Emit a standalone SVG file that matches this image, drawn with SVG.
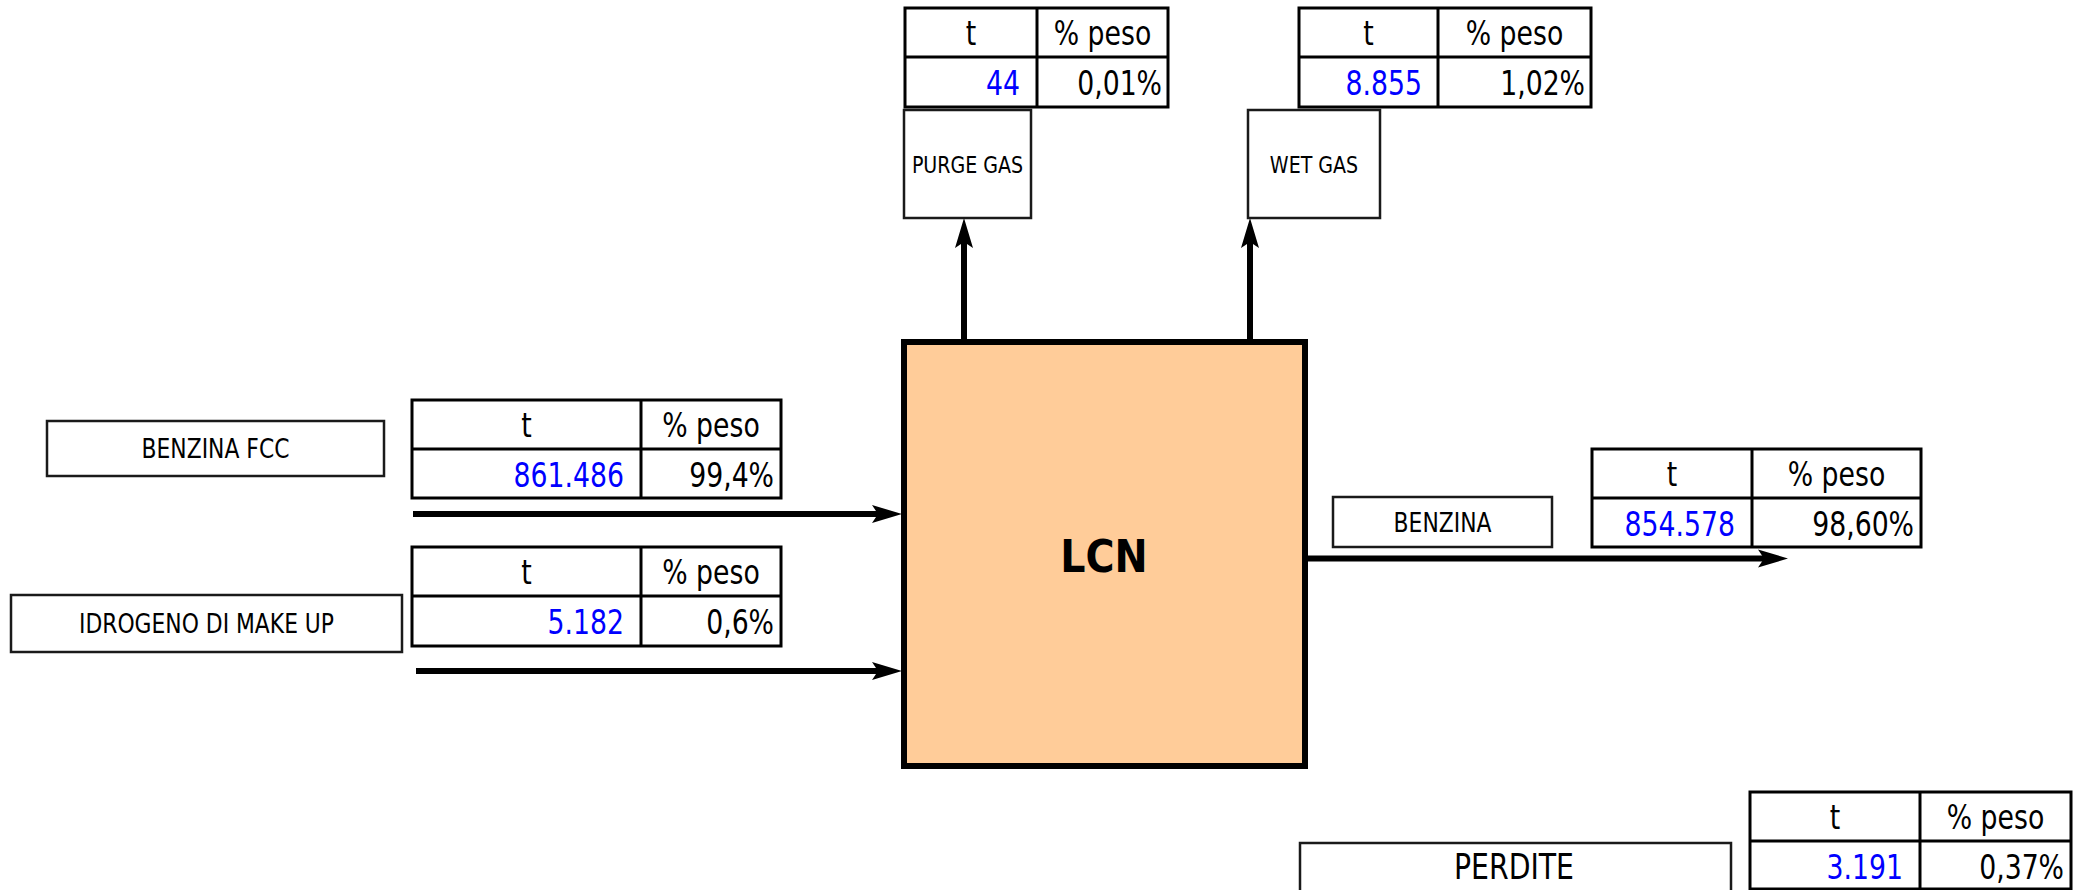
<svg xmlns="http://www.w3.org/2000/svg" width="2083" height="890" viewBox="0 0 2083 890">
<style>
text{font-family:"DejaVu Sans Condensed","DejaVu Sans","Liberation Sans",sans-serif;font-stretch:condensed;fill:#000}
.tbl{fill:#fff;stroke:#000;stroke-width:3}
.tl{stroke:#000;stroke-width:3}
.lbl{fill:#fff;stroke:#1a1a1a;stroke-width:2.5}
.th{font-size:33px;text-anchor:middle}
.tv{font-size:33px;text-anchor:end;fill:#0000FF}
.tp{font-size:33px;text-anchor:end}
.lt{font-size:27px;text-anchor:middle}
.st{font-size:23.5px;text-anchor:middle}
.conn{stroke:#000;stroke-width:6;fill:none}
</style>
<defs>
<marker id="ah" markerUnits="userSpaceOnUse" viewBox="0 0 30 20" markerWidth="30" markerHeight="20" refX="6" refY="10" orient="auto">
<path d="M0,1 L30,10 L0,19 L6,10 Z" fill="#000"/>
</marker>
</defs>

<g id="connectors">
<line class="conn" x1="413" y1="514" x2="878" y2="514" marker-end="url(#ah)"/>
<line class="conn" x1="416" y1="671" x2="878" y2="671" marker-end="url(#ah)"/>
<line class="conn" x1="1308" y1="558.5" x2="1764" y2="558.5" marker-end="url(#ah)"/>
<line class="conn" x1="964" y1="340" x2="964" y2="242" marker-end="url(#ah)"/>
<line class="conn" x1="1250" y1="340" x2="1250" y2="242" marker-end="url(#ah)"/>
</g>

<g id="lcn">
<rect x="904" y="342" width="401" height="424" fill="#FFCC99" stroke="#000" stroke-width="6"/>
<text x="1104" y="572" style="font-size:44px;font-weight:bold;text-anchor:middle">LCN</text>
</g>

<g id="purge-gas">
<rect class="lbl" x="904" y="110" width="127" height="108"/>
<text class="st" transform="translate(967.5,172.5) scale(0.9,1)">PURGE GAS</text>
</g>

<g id="wet-gas">
<rect class="lbl" x="1248" y="110" width="132" height="108"/>
<text class="st" transform="translate(1314,172.5) scale(0.9,1)">WET GAS</text>
</g>

<g id="benzina-fcc">
<rect class="lbl" x="47" y="421" width="337" height="55"/>
<text class="lt" transform="translate(215.5,458) scale(0.9,1)">BENZINA FCC</text>
</g>

<g id="idrogeno">
<rect class="lbl" x="11" y="595" width="391" height="57"/>
<text class="lt" transform="translate(206.5,633) scale(0.9,1)">IDROGENO DI MAKE UP</text>
</g>

<g id="benzina">
<rect class="lbl" x="1333" y="497" width="219" height="50"/>
<text class="lt" transform="translate(1442.5,532) scale(0.9,1)">BENZINA</text>
</g>

<g id="perdite">
<rect class="lbl" x="1300" y="843" width="431" height="60"/>
<text transform="translate(1514,879) scale(0.9,1)" style="font-size:35px;text-anchor:middle">PERDITE</text>
</g>

<g id="table-purge">
<rect class="tbl" x="905" y="8" width="263" height="99"/>
<line class="tl" x1="905" y1="57" x2="1168" y2="57"/>
<line class="tl" x1="1037" y1="8" x2="1037" y2="107"/>
<text class="th" transform="translate(971,44.5) scale(0.9,1)">t</text>
<text class="th" transform="translate(1102.5,44.5) scale(0.9,1)">% peso</text>
<text class="tv" transform="translate(1020,95) scale(0.9,1)">44</text>
<text class="tp" transform="translate(1162,95) scale(0.9,1)">0,01%</text>
</g>

<g id="table-wet">
<rect class="tbl" x="1299" y="8" width="292" height="99"/>
<line class="tl" x1="1299" y1="57" x2="1591" y2="57"/>
<line class="tl" x1="1438" y1="8" x2="1438" y2="107"/>
<text class="th" transform="translate(1368.5,44.5) scale(0.9,1)">t</text>
<text class="th" transform="translate(1514.5,44.5) scale(0.9,1)">% peso</text>
<text class="tv" transform="translate(1422,95) scale(0.9,1)">8.855</text>
<text class="tp" transform="translate(1585,95) scale(0.9,1)">1,02%</text>
</g>

<g id="table-fcc">
<rect class="tbl" x="412" y="400" width="369" height="98"/>
<line class="tl" x1="412" y1="449" x2="781" y2="449"/>
<line class="tl" x1="641" y1="400" x2="641" y2="498"/>
<text class="th" transform="translate(526.5,436.5) scale(0.9,1)">t</text>
<text class="th" transform="translate(711,436.5) scale(0.9,1)">% peso</text>
<text class="tv" transform="translate(624,487) scale(0.9,1)">861.486</text>
<text class="tp" transform="translate(774,487) scale(0.9,1)">99,4%</text>
</g>

<g id="table-h2">
<rect class="tbl" x="412" y="547" width="369" height="99"/>
<line class="tl" x1="412" y1="596" x2="781" y2="596"/>
<line class="tl" x1="641" y1="547" x2="641" y2="646"/>
<text class="th" transform="translate(526.5,583.5) scale(0.9,1)">t</text>
<text class="th" transform="translate(711,583.5) scale(0.9,1)">% peso</text>
<text class="tv" transform="translate(624,634) scale(0.9,1)">5.182</text>
<text class="tp" transform="translate(774,634) scale(0.9,1)">0,6%</text>
</g>

<g id="table-benzina">
<rect class="tbl" x="1592" y="449" width="329" height="98"/>
<line class="tl" x1="1592" y1="498" x2="1921" y2="498"/>
<line class="tl" x1="1752" y1="449" x2="1752" y2="547"/>
<text class="th" transform="translate(1672,485.5) scale(0.9,1)">t</text>
<text class="th" transform="translate(1836.5,485.5) scale(0.9,1)">% peso</text>
<text class="tv" transform="translate(1735,536) scale(0.9,1)">854.578</text>
<text class="tp" transform="translate(1914,536) scale(0.9,1)">98,60%</text>
</g>

<g id="table-perdite">
<rect class="tbl" x="1750" y="792" width="321" height="97"/>
<line class="tl" x1="1750" y1="841" x2="2071" y2="841"/>
<line class="tl" x1="1920" y1="792" x2="1920" y2="889"/>
<text class="th" transform="translate(1835,828.5) scale(0.9,1)">t</text>
<text class="th" transform="translate(1995.5,828.5) scale(0.9,1)">% peso</text>
<text class="tv" transform="translate(1903,879) scale(0.9,1)">3.191</text>
<text class="tp" transform="translate(2064,879) scale(0.9,1)">0,37%</text>
</g>
</svg>
